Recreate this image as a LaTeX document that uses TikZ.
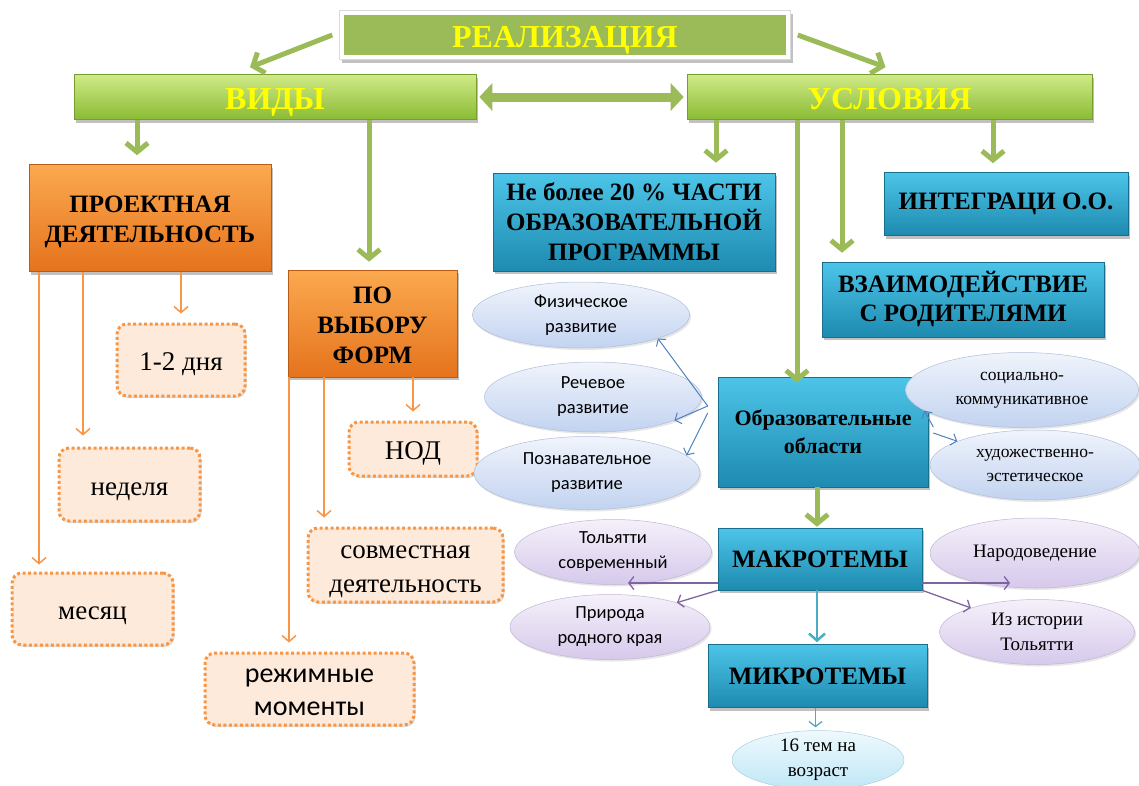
\documentclass[tikz,border=0pt]{standalone}
\usepackage{fontspec}
\setmainfont{Liberation Serif}
\newfontfamily\calib{Carlito}
\usetikzlibrary{arrows.meta,shapes.geometric,shadows}
\definecolor{gtop}{HTML}{D0EA88}
\definecolor{gbot}{HTML}{8ABB34}
\definecolor{gflat}{HTML}{9BBB59}
\definecolor{garrc}{HTML}{9BBB59}
\definecolor{ytext}{HTML}{FFFF00}
\definecolor{btop}{HTML}{4CC5E8}
\definecolor{bbot}{HTML}{1E8AB0}
\definecolor{otop}{HTML}{FBA94F}
\definecolor{obot}{HTML}{E5731D}
\definecolor{oline}{HTML}{F79646}
\definecolor{ofill}{HTML}{FDEADA}
\definecolor{ebtop}{HTML}{F0F4FC}
\definecolor{ebbot}{HTML}{C2D3F0}
\definecolor{eptop}{HTML}{F5F0FA}
\definecolor{epbot}{HTML}{D6C9EB}
\definecolor{ectop}{HTML}{EEF9FD}
\definecolor{ecbot}{HTML}{BFE7F6}
\definecolor{larr}{HTML}{4F81BD}
\definecolor{parrc}{HTML}{8064A2}
\definecolor{tarrc}{HTML}{4BACC6}
\begin{document}
\begin{tikzpicture}[x=1pt,y=-1pt,
 shd/.style={drop shadow={shadow xshift=2pt,shadow yshift=-3pt,opacity=0.35,fill=black!70}},
 gbar/.style={rectangle,shd,top color=gtop,bottom color=gbot,draw=gbot!85!black,line width=0.6pt,text=ytext,font=\bfseries\fontsize{32}{36}\selectfont,inner sep=0pt,text depth=0pt,text height=25pt},
 bbox/.style={rectangle,shd,top color=btop,bottom color=bbot,draw=bbot!80!black,line width=0.6pt,text=black,font=\bfseries\fontsize{25}{30}\selectfont,align=center,inner sep=0pt},
 obox/.style={rectangle,shd,top color=otop,bottom color=obot,draw=obot!80!black,line width=0.6pt,text=black,font=\bfseries\fontsize{25}{30}\selectfont,align=center,inner sep=0pt,text depth=0pt},
 dbox/.style={rectangle,rounded corners=10pt,fill=ofill,draw=oline,line width=3pt,dash pattern=on 3pt off 2.5pt,drop shadow={shadow xshift=1.5pt,shadow yshift=-2pt,opacity=0.25},font=\fontsize{27}{34}\selectfont,align=center,inner sep=0pt,text depth=0pt,text height=21.5pt},
 ebl/.style={ellipse,top color=ebtop,bottom color=ebbot,draw=ebbot!90!black,line width=0.5pt,drop shadow={shadow xshift=1.5pt,shadow yshift=-2pt,opacity=0.2},align=center,inner sep=0pt},
 epu/.style={ellipse,top color=eptop,bottom color=epbot,draw=epbot!90!black,line width=0.5pt,drop shadow={shadow xshift=1.5pt,shadow yshift=-2pt,opacity=0.2},align=center,inner sep=0pt},
 ecy/.style={ellipse,top color=ectop,bottom color=ecbot,draw=ecbot!90!black,line width=0.5pt,align=center,inner sep=0pt},
 sanstxt/.style={font=\calib\fontsize{18.5}{25}\selectfont},
 seriftxt/.style={font=\fontsize{17.5}{24}\selectfont},
 serifbig/.style={font=\fontsize{19}{25}\selectfont},
 garr/.style={draw=garrc,line width=5pt,-{Straight Barb[length=9pt,width=22pt]}},
 dblarr/.style={draw=garrc,line width=9pt,{Triangle[length=13pt,width=27pt]}-{Triangle[length=13pt,width=27pt]}},
 oarr/.style={draw=oline,line width=1.5pt,-{Straight Barb[length=6pt,width=14pt]}},
 barr/.style={draw=larr,line width=1pt,-{Straight Barb[length=5pt,width=12pt]}},
 parr/.style={draw=parrc,line width=1.3pt,-{Straight Barb[length=5pt,width=13pt]}},
 tarr/.style={draw=tarrc,line width=1.3pt,-{Straight Barb[length=5pt,width=13pt]}},
 tarrthick/.style={draw=tarrc,line width=2.5pt,-{Straight Barb[length=7pt,width=16pt]}}
]
\useasboundingbox (0,0) rectangle (1139,785);

% top
\node[rectangle,fill=white,draw=black!15,line width=0.5pt,shd,minimum width=451pt,minimum height=49pt] (realo) at (565,35) {};
\node[rectangle,fill=gflat,minimum width=442pt,minimum height=40pt,text=ytext,font=\bfseries\fontsize{32}{36}\selectfont,inner sep=0pt,text depth=0pt,text height=24pt] (real) at (565,35) {РЕАЛИЗАЦИЯ};
\node[gbar,minimum width=402pt,minimum height=45pt] (vidy) at (275,97) {ВИДЫ};
\node[gbar,minimum width=405pt,minimum height=45pt] (usl) at (889.5,97) {УСЛОВИЯ};

% left side boxes
\node[obox,minimum width=242pt,minimum height=107pt,text height=48pt] (proj) at (150,218) {ПРОЕКТНАЯ\\ДЕЯТЕЛЬНОСТЬ};
\node[obox,minimum width=169pt,minimum height=107pt,text height=79pt] (pvf) at (372.5,323.5) {ПО\\ВЫБОРУ\\ФОРМ};
\node[dbox,minimum width=128pt,minimum height=72pt] (d12) at (181,360) {1-2 дня};
\node[dbox,minimum width=141pt,minimum height=73pt] (ned) at (129.5,484.5) {неделя};
\node[dbox,minimum width=161pt,minimum height=72pt] (mes) at (92.5,609) {месяц};
\node[dbox,minimum width=128pt,minimum height=54pt] (nod) at (413,449) {НОД};
\node[dbox,minimum width=195pt,minimum height=74pt,text height=54pt] (sovm) at (405.5,565) {совместная\\деятельность};
\node[dbox,minimum width=209pt,minimum height=72pt,font=\calib\fontsize{28}{33}\selectfont,text height=52pt] (rezh) at (309.5,689) {режимные\\моменты};

% right side boxes
\node[bbox,minimum width=282pt,minimum height=98pt] (ne20) at (634,222) {Не более 20 \% ЧАСТИ\\ОБРАЗОВАТЕЛЬНОЙ\\ПРОГРАММЫ};
\node[bbox,minimum width=244pt,minimum height=63pt] (integ) at (1006,204) {ИНТЕГРАЦИ О.О.};
\node[bbox,minimum width=282pt,minimum height=75pt,font=\bfseries\fontsize{25}{29}\selectfont] (vzaim) at (963,299.5) {ВЗАИМОДЕЙСТВИЕ\\С РОДИТЕЛЯМИ};
\node[bbox,minimum width=210pt,minimum height=110pt,font=\bfseries\fontsize{22}{28}\selectfont] (obr) at (823,432) {Образовательные\\области};
\node[bbox,minimum width=204pt,minimum height=62pt,text depth=0pt] (makro) at (820,559) {МАКРОТЕМЫ};
\node[bbox,minimum width=219pt,minimum height=63pt,text depth=0pt] (mikro) at (817.5,676) {МИКРОТЕМЫ};

% ellipses
\node[ebl,sanstxt,minimum width=217pt,minimum height=66pt] (fys) at (581,315) {Физическое\\развитие};
\node[ebl,sanstxt,minimum width=217pt,minimum height=70pt] (rech) at (593,397) {Речевое\\развитие};
\node[ebl,sanstxt,minimum width=226pt,minimum height=73pt] (pozn) at (587,473) {Познавательное\\развитие};
\node[ebl,seriftxt,minimum width=233pt,minimum height=75pt] (soc) at (1022,390) {социально-\\коммуникативное};
\node[ebl,seriftxt,minimum width=210pt,minimum height=70pt] (hud) at (1035,465) {художественно-\\эстетическое};
\node[epu,sanstxt,minimum width=197pt,minimum height=65pt] (tol) at (613,552) {Тольятти\\современный};
\node[epu,sanstxt,minimum width=200pt,minimum height=65pt] (prir) at (610,627) {Природа\\родного края};
\node[epu,serifbig,minimum width=210pt,minimum height=70pt] (nar) at (1035,553) {Народоведение};
\node[epu,serifbig,minimum width=195pt,minimum height=65pt] (iz) at (1037,632) {Из истории\\Тольятти};
\node[ecy,serifbig,minimum width=172pt,minimum height=54pt] (t16) at (818,760) {16 тем на\\возраст};

% green arrows from top
\draw[garr] ([xshift=-7pt]realo.west) -- ([xshift=-25pt,yshift=7pt]vidy.north);
\draw[garr] ([xshift=7pt]realo.east) -- ([xshift=-4pt,yshift=7pt]usl.north);
\draw[dblarr] ([xshift=3pt]vidy.east) -- ([xshift=-3pt]usl.west);

\draw[garr] ([xshift=-138pt]vidy.south) coordinate (g1) -- (g1 |- proj.north) [shorten >=9pt];
\draw[garr] ([xshift=94pt]vidy.south) coordinate (g2) -- (g2 |- pvf.north) [shorten >=8pt];
\draw[garr] ([xshift=-173.5pt]usl.south) coordinate (g3) -- (g3 |- ne20.north) [shorten >=10pt];
\draw[garr] ([xshift=-92.5pt]usl.south) coordinate (g4) -- (g4 |- obr.north) [shorten >=-6pt];
\draw[garr] ([xshift=-47.5pt]usl.south) coordinate (g5) -- (g5 |- vzaim.north) [shorten >=9pt];
\draw[garr] ([xshift=103.5pt]usl.south) coordinate (g6) -- (g6 |- integ.north) [shorten >=9pt];
\draw[garr] ([xshift=-6pt]obr.south) coordinate (g7) -- (g7 |- makro.north) [shorten >=1pt];

% orange arrows
\draw[oarr] ([xshift=-111pt]proj.south) coordinate (o1) -- (o1 |- mes.north) [shorten >=7pt];
\draw[oarr] ([xshift=-67pt]proj.south) coordinate (o2) -- (o2 |- ned.north) [shorten >=11pt];
\draw[oarr] ([xshift=31pt]proj.south) coordinate (o3) -- (o3 |- d12.north) [shorten >=9pt];
\draw[oarr] ([xshift=-83.5pt]pvf.south) coordinate (o4) -- (o4 |- rezh.north) [shorten >=9pt];
\draw[oarr] ([xshift=-48.5pt]pvf.south) coordinate (o5) -- (o5 |- sovm.north) [shorten >=9pt];
\draw[oarr] ([xshift=40.5pt]pvf.south) coordinate (o6) -- (o6 |- nod.north) [shorten >=9pt];

% blue arrows
\coordinate (bs1) at ([xshift=-10pt,yshift=26pt]obr.west);
\coordinate (bs2) at ([xshift=-10pt,yshift=19pt]obr.west);
\draw[barr] (bs1) -- (fys.-17);
\draw[barr] (bs1) -- (rech.-16);
\draw[barr] (bs2) -- (pozn.10);
\draw[barr] ([xshift=5pt,yshift=5pt]obr.east) -- (soc.192);
\draw[barr] ([xshift=5pt,yshift=-1pt]obr.east) -- (hud.163);

% purple arrows
\coordinate (tolend) at ([xshift=15pt]tol.south);
\coordinate (narend) at ([xshift=-25pt]nar.south);
\draw[parr] ([yshift=-24pt]makro.west) coordinate (m1) -- (m1 -| tolend);
\draw[parr] (makro.south west) -- (prir.20);
\draw[parr] ([yshift=-24pt]makro.east) coordinate (m2) -- (m2 -| narend);
\draw[parr] (makro.south east) -- (iz.160);

% teal arrows
\draw[tarrthick] ([xshift=-3pt]makro.south) coordinate (m0) -- (m0 |- mikro.north) [shorten >=2pt];
\draw[tarr] ([xshift=-2pt]mikro.south) coordinate (m3) -- (m3 |- t16.north) [shorten >=3pt];
\end{tikzpicture}
\end{document}
